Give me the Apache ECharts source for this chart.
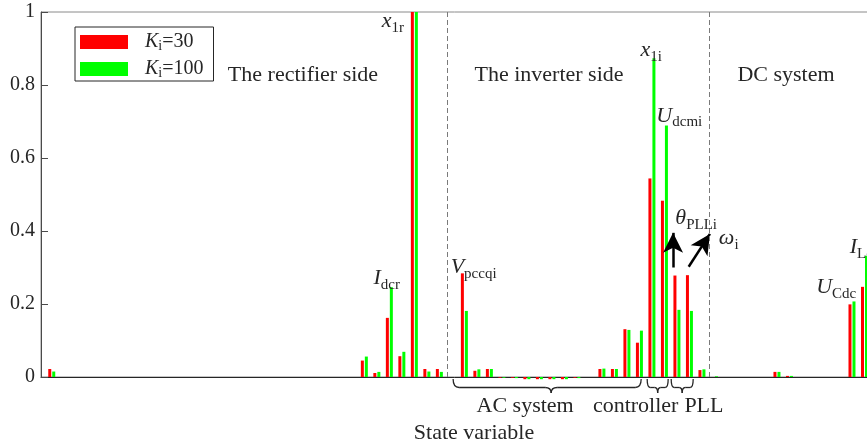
<!DOCTYPE html>
<html><head><meta charset="utf-8">
<script src="https://cdn.jsdelivr.net/npm/echarts@6/dist/echarts.min.js"></script>
<style>html,body{margin:0;padding:0;background:#fff}#c{width:867px;height:444px}</style>
</head><body><div id="c"></div>
<script>
// state-variable index (category) and sensitivity values
const stateIndex = Array.from({length: 66}, (_, i) => i);
const ki30 = [
  0.022, 0, 0, 0, 0, 0, 0, 0, 0, 0,
  0, 0, 0, 0, 0, 0, 0, 0, 0, 0,
  0, 0, 0, 0, 0, 0.045, 0.011, 0.162, 0.057, 1.0,
  0.022, 0.022, 0, 0.284, 0.017, 0.022, -0.002, -0.002, -0.006, -0.006,
  -0.006, -0.006, -0.002, 0, 0.022, 0.022, 0.131, 0.094, 0.544, 0.483,
  0.278, 0.279, 0.019, 0, 0, 0, 0, 0, 0.014, 0.003,
  0, 0, 0, 0, 0.199, 0.247
];
const ki100 = [
  0.015, 0, 0, 0, 0, 0, 0, 0, 0, 0,
  0, 0, 0, 0, 0, 0, 0, 0, 0, 0,
  0, 0, 0, 0, 0, 0.056, 0.014, 0.246, 0.069, 1.0,
  0.015, 0.014, 0, 0.181, 0.021, 0.022, -0.002, -0.003, -0.006, -0.006,
  -0.006, -0.006, -0.003, 0, 0.023, 0.022, 0.129, 0.127, 0.873, 0.689,
  0.184, 0.181, 0.021, 0.002, 0, 0, 0, 0, 0.014, 0.003,
  0, 0, 0, 0, 0.207, 0.332
];
const seriesNames = ['Ki=30', 'Ki=100'];
const yTicks = [0, 0.2, 0.4, 0.6, 0.8, 1];
const regionBounds = [31.5, 52.4];

const FONT = 'Liberation Serif';
const INK = '#262626';
const rich = {
  it: {fontFamily: FONT, fontStyle: 'italic', fontSize: 22, lineHeight: 28, color: INK},
  rm: {fontFamily: FONT, fontSize: 22, lineHeight: 28, color: INK},
  sb: {fontFamily: FONT, fontSize: 15, lineHeight: 15, verticalAlign: 'bottom', color: INK}
};
const legendRich = {
  it: {fontFamily: FONT, fontStyle: 'italic', fontSize: 20, lineHeight: 22, color: INK},
  rm: {fontFamily: FONT, fontSize: 20, lineHeight: 22, color: INK},
  sb: {fontFamily: FONT, fontSize: 14, lineHeight: 12, verticalAlign: 'bottom', color: INK},
  sp: {width: 12}
};

// annotation label anchors (data units)
const annotations = [
  {t: '{it|x}{sb|1r}', c: [27.45, 0.975]},
  {t: '{it|I}{sb|dcr}', c: [26.95, 0.27]},
  {t: '{it|V}{sb|pccqi}', c: [33.9, 0.30]},
  {t: '{it|x}{sb|1i}', c: [48.1, 0.895]},
  {t: '{it|U}{sb|dcmi}', c: [50.35, 0.715]},
  {t: '{it|θ}{sb|PLLi}', c: [51.7, 0.435]},
  {t: '{it|ω}{sb|i}', c: [54.3, 0.38]},
  {t: '{it|U}{sb|Cdc}', c: [62.9, 0.245]},
  {t: '{it|I}{sb|Ldc}', c: [65.2, 0.355]}
];

const chart = echarts.init(document.getElementById('c'), null, {renderer: 'canvas'});
const mk = arr => stateIndex.map((x, i) => [x, arr[i]]);

const option = {
  animation: false,
  backgroundColor: '#fff',
  grid: {left: 41, top: 12, right: -40, bottom: 67, show: true, borderColor: '#8a8a8a', borderWidth: 1,
         backgroundColor: 'transparent', containLabel: false, outerBoundsMode: 'none'},
  legend: {
    orient: 'vertical', left: 75, top: 27, itemWidth: 48, itemHeight: 14, itemGap: 6,
    icon: 'rect', borderColor: INK, borderWidth: 1, padding: [5, 10, 1, 5],
    data: seriesNames,
    formatter: n => '{sp|}{it|K}{sb|i}{rm|' + n.slice(2) + '}',
    textStyle: {rich: legendRich}
  },
  xAxis: {
    type: 'value', min: -0.86, max: 68.4,
    axisLine: {show: true, onZero: false, lineStyle: {color: INK, width: 1}},
    axisTick: {show: false}, axisLabel: {show: false}, splitLine: {show: false},
    name: 'State variable', nameLocation: 'middle', nameGap: 45,
    nameTextStyle: {fontFamily: FONT, fontSize: 22, color: INK}
  },
  yAxis: {
    type: 'value', min: yTicks[0], max: yTicks[yTicks.length - 1], interval: 0.2,
    axisLine: {show: true, onZero: false, lineStyle: {color: '#4a4a4a', width: 1}},
    axisTick: {show: true, inside: true, length: 7, lineStyle: {color: '#4a4a4a'}},
    axisLabel: {fontFamily: FONT, fontSize: 20, color: INK, margin: 6},
    splitLine: {show: false}
  },
  series: [
    {
      name: seriesNames[0], type: 'bar', data: mk(ki30), barWidth: 3, barGap: '33%', clip: false,
      itemStyle: {color: '#ff0000'},
      markPoint: {
        symbol: 'circle', symbolSize: 0, silent: true,
        label: {show: true, position: 'inside', rich: rich},
        data: annotations.map(a => ({coord: a.c, label: {formatter: a.t}}))
      },
      markLine: {
        silent: true, symbol: ['none', 'arrow'], symbolSize: [15, 20], label: {show: false},
        lineStyle: {color: '#000', type: 'solid', width: 2.5},
        data: [
          [{coord: [49.85, 0.30]}, {coord: [49.85, 0.395]}],
          [{coord: [51.1, 0.302]}, {coord: [52.8, 0.392]}]
        ]
      }
    },
    {
      name: seriesNames[1], type: 'bar', data: mk(ki100), barWidth: 3, barGap: '33%', clip: false,
      itemStyle: {color: '#00ff00'},
      markLine: {
        silent: true, symbol: 'none', label: {show: false},
        lineStyle: {color: '#7a7a7a', type: [5, 3], width: 1},
        data: regionBounds.map(v => ({xAxis: v}))
      }
    }
  ]
};
chart.setOption(option);

// region titles and brace annotations under the axis
const px = v => chart.convertToPixel({xAxisIndex: 0}, v);
const st = {stroke: INK, lineWidth: 1.3, fill: null};
function brace(a, b, m, r) {
  const x1 = px(a), x2 = px(b), xm = px(m);
  const y0 = 379, y1 = 387.5, y2 = 393;
  const q = (sx, sy, cx, cy, ex, ey) => ({type: 'bezierCurve',
    shape: {x1: sx, y1: sy, cpx1: cx, cpy1: cy, x2: ex, y2: ey}, style: st});
  const l = (sx, ex) => ({type: 'line', shape: {x1: sx, y1: y1, x2: ex, y2: y1}, style: st});
  return {type: 'group', children: [
    q(x1, y0, x1, y1, x1 + r, y1), l(x1 + r, xm - r), q(xm - r, y1, xm, y1, xm, y2),
    q(xm, y2, xm, y1, xm + r, y1), l(xm + r, x2 - r), q(x2 - r, y1, x2, y1, x2, y0)
  ]};
}
const txt = (x, y, s) => ({type: 'text', x: x, y: y, style: {text: s, font: '22px "Liberation Serif"',
  fill: INK, textAlign: 'center', textVerticalAlign: 'middle'}});
chart.setOption({
  graphic: [
    txt(303, 75, 'The rectifier side'),
    txt(549, 75, 'The inverter side'),
    txt(786, 75, 'DC system'),
    brace(32.1, 47.14, 39.94, 6),
    brace(47.62, 49.3, 48.46, 3),
    brace(49.54, 51.3, 50.42, 3),
    txt(px(37.86), 406, 'AC system'),
    txt(px(46.7), 406, 'controller'),
    txt(px(52.16), 406, 'PLL')
  ]
});
</script>
</body></html>
